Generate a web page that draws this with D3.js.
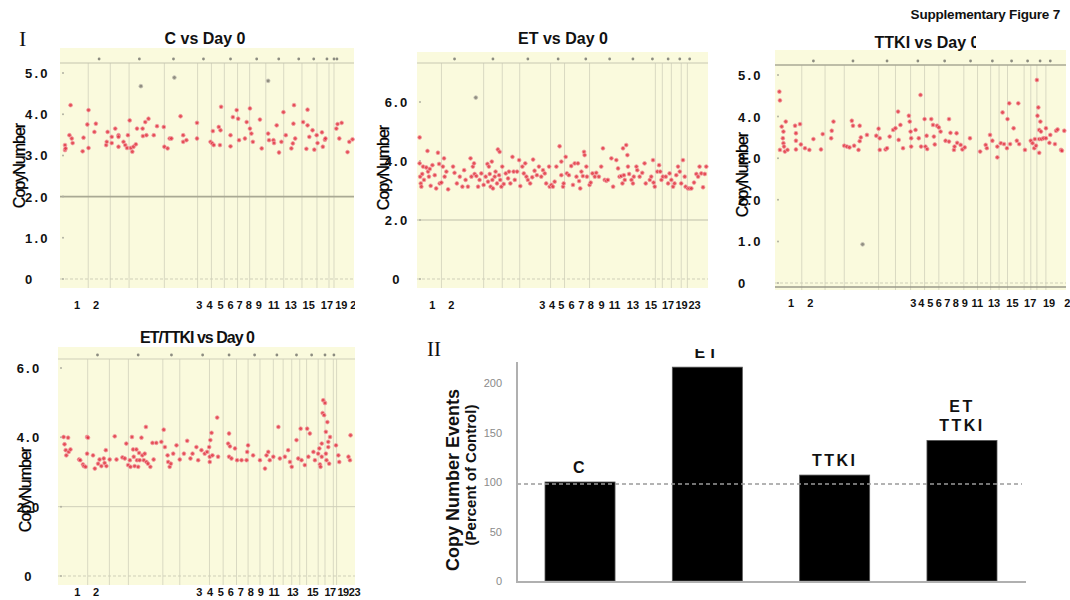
<!DOCTYPE html>
<html>
<head>
<meta charset="utf-8">
<script src="https://cdn.jsdelivr.net/npm/d3@7"></script>
<style>
body { margin: 0; background: #fff; }
text { font-family: "Liberation Sans", Arial, sans-serif; }
</style>
</head>
<body>
<div id="myDiv"></div>
<script>
// copy number points: [genome position (% of genome), copy number]
var cPoints = [[1.7,3.25],[1.7,3.13],[1.9,3.17],[3.6,4.22],[3.2,3.49],[4.0,3.41],[4.3,3.30],[7.7,3.10],[8.0,3.43],[9.3,3.75],[9.7,4.10],[9.7,3.18],[11.7,3.57],[12.2,3.77],[15.7,3.25],[15.9,3.33],[16.2,3.57],[17.6,3.45],[17.6,3.30],[18.8,3.65],[19.9,3.49],[19.9,3.45],[19.9,3.21],[21.6,3.33],[22.2,3.25],[22.8,3.18],[23.1,3.49],[23.7,3.85],[24.1,3.18],[24.6,3.09],[25.0,3.21],[25.8,3.27],[26.2,3.65],[27.5,4.68],[28.1,3.65],[28.2,3.47],[29.0,3.81],[29.4,3.49],[30.1,3.89],[31.9,3.49],[33.0,3.71],[35.3,3.69],[35.5,3.21],[36.6,3.17],[37.3,3.41],[37.9,3.41],[38.9,4.89],[41.0,3.95],[41.9,3.49],[41.9,3.33],[43.0,3.37],[46.6,3.79],[46.6,3.41],[51.2,3.33],[51.8,3.29],[52.0,3.59],[52.3,3.25],[54.0,3.69],[54.6,3.61],[54.4,3.25],[54.8,4.18],[58.0,3.49],[58.0,3.22],[58.8,3.93],[60.1,4.10],[60.6,3.89],[60.9,3.37],[62.9,3.41],[63.5,3.81],[64.6,4.14],[64.6,3.65],[65.1,3.53],[65.6,3.33],[68.0,3.87],[68.6,3.17],[70.8,4.81],[70.8,3.53],[71.1,3.37],[72.6,3.37],[72.8,3.30],[73.7,3.73],[74.5,3.07],[75.3,3.33],[76.0,4.05],[76.8,3.49],[78.7,3.17],[79.2,3.29],[79.4,3.77],[79.6,4.22],[80.0,3.41],[82.7,3.81],[83.8,3.16],[84.2,4.11],[84.2,3.73],[84.8,3.45],[85.9,3.61],[86.5,3.14],[87.3,3.49],[87.6,3.30],[89.1,3.56],[89.4,3.21],[90.1,3.38],[90.3,3.41],[94.0,3.65],[94.4,3.76],[95.0,3.41],[95.8,3.79],[97.8,3.08],[98.4,3.33],[99.5,3.39]];

var etPoints = [[0.9,4.80],[0.9,3.92],[1.1,3.47],[1.3,3.24],[1.5,3.13],[1.8,3.56],[2.1,3.81],[2.4,3.36],[3.2,3.78],[3.6,4.34],[3.8,3.64],[4.1,3.47],[4.4,3.73],[4.7,3.16],[5.3,3.86],[6.1,3.52],[6.6,3.07],[7.2,4.28],[7.6,3.90],[7.8,3.24],[8.4,3.27],[8.9,3.81],[9.3,4.09],[9.5,3.47],[10.1,3.64],[10.7,3.04],[12.4,3.81],[12.9,3.60],[13.7,3.24],[14.7,3.47],[15.6,3.13],[16.2,3.69],[16.7,3.36],[17.5,3.13],[18.4,4.09],[18.7,3.47],[19.2,3.81],[19.6,3.92],[19.8,3.56],[20.2,6.15],[20.4,3.49],[21.0,3.13],[21.5,3.36],[22.1,3.58],[22.9,3.19],[23.6,3.47],[24.2,3.90],[24.4,3.30],[24.7,3.81],[25.0,3.56],[25.3,3.13],[25.7,3.98],[25.9,3.36],[26.1,3.07],[26.7,3.47],[27.0,3.64],[27.5,3.24],[27.8,4.39],[28.2,3.52],[28.4,4.31],[28.6,3.36],[29.0,3.13],[29.3,3.81],[29.8,3.22],[30.5,3.58],[31.3,3.41],[31.6,3.64],[32.1,3.24],[32.8,4.14],[33.2,3.64],[33.6,3.36],[34.4,3.64],[35.1,4.03],[35.5,3.15],[36.2,3.81],[36.7,3.58],[37.2,3.92],[37.6,3.47],[38.1,3.36],[38.9,3.24],[39.6,3.45],[39.9,4.05],[40.4,3.67],[41.2,3.52],[41.9,3.81],[42.7,3.47],[43.3,3.69],[43.9,3.58],[44.4,3.24],[45.4,3.81],[45.6,3.13],[46.2,3.19],[46.7,3.13],[47.3,3.30],[47.9,3.81],[49.0,4.50],[49.6,3.98],[49.6,3.52],[50.2,3.13],[50.4,3.24],[51.1,4.14],[51.5,3.58],[52.2,3.52],[53.0,3.83],[53.6,3.19],[54.2,3.92],[54.8,3.47],[55.3,3.92],[55.7,3.32],[56.1,3.07],[56.5,3.64],[57.0,3.49],[57.4,4.31],[57.6,4.20],[58.2,3.81],[58.4,3.47],[59.3,3.19],[59.7,3.27],[60.3,3.58],[61.1,3.47],[61.6,3.60],[62.5,3.47],[63.3,3.81],[63.9,4.43],[64.5,3.36],[65.1,3.33],[65.6,3.36],[66.8,4.09],[67.4,3.13],[68.5,4.03],[69.1,3.75],[69.6,3.47],[70.2,3.49],[70.6,3.24],[70.8,4.43],[71.1,3.52],[71.4,3.36],[71.9,4.54],[72.3,4.20],[72.5,3.81],[72.9,3.56],[73.7,3.36],[74.2,3.24],[74.5,3.47],[75.4,3.81],[75.7,3.69],[76.5,3.47],[77.4,3.60],[78.2,3.92],[78.6,3.24],[80.0,3.36],[80.5,3.47],[81.1,4.03],[81.3,3.27],[81.7,3.13],[82.6,3.64],[83.2,3.86],[83.6,3.64],[84.0,3.36],[84.5,3.47],[85.5,3.47],[86.3,3.24],[86.8,3.58],[87.4,3.36],[88.0,3.13],[88.5,3.24],[89.1,3.52],[89.7,3.81],[90.3,3.64],[90.8,3.24],[91.4,4.03],[92.0,3.47],[92.3,3.13],[93.1,3.07],[93.7,3.07],[94.3,3.07],[95.2,3.27],[96.0,3.56],[96.6,3.47],[97.1,3.81],[97.7,3.58],[98.3,3.11],[98.9,3.56],[99.4,3.81]];

var ttkiPoints = [[1.5,4.60],[1.7,4.39],[2.3,3.76],[2.7,3.48],[2.9,3.36],[3.1,3.28],[3.4,3.16],[3.7,3.88],[1.7,3.20],[2.9,3.64],[4.3,3.20],[6.9,3.78],[7.2,3.60],[7.2,3.42],[7.2,3.21],[8.6,3.82],[8.9,3.33],[10.3,3.24],[11.8,3.20],[13.2,3.46],[15.8,3.21],[16.4,3.58],[19.3,3.48],[19.5,3.66],[20.1,3.88],[23.8,3.30],[24.7,3.28],[25.6,3.26],[26.4,3.90],[26.8,3.78],[27.2,3.30],[28.7,3.20],[29.1,3.78],[29.1,3.41],[29.5,3.50],[31.6,3.56],[30.1,0.93],[34.8,3.54],[35.6,3.71],[36.0,3.48],[36.0,3.20],[38.0,3.21],[38.5,3.24],[39.4,3.52],[40.6,3.68],[41.4,3.72],[42.3,4.12],[42.5,3.44],[43.1,3.80],[44.0,3.24],[46.0,4.02],[46.3,3.88],[46.6,3.64],[46.8,3.48],[46.8,3.28],[48.3,3.68],[49.4,3.48],[50.0,4.52],[50.2,3.28],[51.4,3.94],[51.7,3.28],[52.1,3.54],[52.3,3.22],[53.7,3.94],[54.3,3.80],[54.6,3.52],[54.9,3.33],[55.7,3.78],[56.3,3.74],[56.9,3.64],[58.6,3.42],[59.8,3.94],[60.3,3.61],[59.8,3.40],[61.5,3.20],[61.7,3.28],[62.4,3.60],[62.6,3.37],[63.8,3.32],[64.4,3.21],[65.2,3.26],[67.0,3.48],[70.5,3.16],[72.4,3.32],[72.8,3.24],[73.9,3.56],[74.7,3.42],[76.4,3.02],[76.4,3.28],[77.6,3.36],[78.2,4.10],[78.7,3.34],[79.7,3.24],[79.9,3.94],[80.5,4.32],[80.8,3.34],[82.0,3.72],[83.1,3.42],[83.6,4.32],[83.9,3.34],[85.9,3.20],[87.9,3.42],[88.5,3.36],[89.1,3.24],[89.3,3.46],[89.7,3.30],[90.0,4.88],[90.2,4.02],[90.5,4.22],[90.8,3.68],[90.8,3.46],[90.8,3.13],[91.2,3.88],[91.4,3.64],[91.6,3.46],[92.3,3.48],[93.1,3.72],[93.1,3.48],[94.3,3.37],[94.6,3.56],[96.2,3.34],[96.6,3.66],[97.1,3.69],[98.3,3.20],[98.6,3.18],[99.4,3.66]];

var ettkiPoints = [[1.9,4.01],[2.2,3.80],[2.6,3.63],[2.8,3.48],[3.4,3.99],[3.6,3.58],[4.2,3.65],[7.1,3.36],[7.5,3.34],[8.4,3.22],[8.7,3.17],[9.3,3.15],[9.8,4.01],[10.1,3.99],[9.8,3.53],[11.8,3.48],[12.4,3.10],[13.5,3.24],[14.0,3.36],[14.6,3.17],[15.4,3.39],[15.7,3.26],[16.1,3.63],[16.3,3.17],[17.4,3.36],[19.1,4.03],[19.7,3.36],[21.7,3.42],[22.5,3.39],[23.0,3.82],[23.6,3.20],[24.2,3.34],[24.4,3.15],[24.9,4.01],[25.3,3.65],[25.5,3.44],[25.8,3.17],[26.4,3.65],[26.6,3.34],[27.0,3.15],[27.3,3.55],[27.5,3.34],[28.1,3.99],[28.4,3.48],[28.9,3.34],[29.2,3.53],[29.6,4.30],[29.8,3.29],[30.3,3.24],[31.1,3.15],[31.8,3.84],[32.2,3.36],[33.1,3.84],[34.8,3.87],[35.6,4.22],[36.0,3.72],[36.9,3.48],[37.1,3.29],[37.6,3.15],[38.0,3.24],[38.8,3.53],[39.9,3.77],[41.0,3.36],[42.4,3.53],[43.5,3.90],[44.6,3.39],[45.3,3.53],[46.6,3.72],[47.2,3.34],[48.3,3.63],[49.4,3.53],[50.2,3.58],[50.9,3.72],[51.1,3.29],[51.3,3.92],[51.7,4.13],[51.1,3.44],[52.0,3.48],[53.6,4.57],[53.9,3.44],[57.3,3.82],[57.6,4.11],[57.9,3.74],[57.6,3.44],[58.4,3.39],[59.6,3.68],[60.3,3.34],[61.8,3.34],[63.5,3.34],[63.7,3.58],[64.0,3.77],[65.7,3.48],[68.0,3.34],[69.7,3.10],[70.2,3.48],[70.8,3.58],[71.3,3.34],[72.5,3.44],[74.2,4.30],[74.7,3.39],[76.4,3.44],[77.5,3.63],[78.1,3.29],[78.7,3.15],[80.3,3.92],[80.9,3.39],[81.7,4.25],[82.0,3.34],[83.1,3.20],[83.9,4.25],[84.3,3.44],[84.8,4.11],[86.0,3.58],[86.5,3.34],[87.6,3.53],[88.0,3.68],[88.2,3.22],[88.4,3.15],[88.8,3.82],[88.8,3.44],[89.1,4.70],[89.3,5.07],[89.6,4.64],[89.9,4.99],[90.2,4.16],[90.2,3.53],[90.4,3.34],[90.7,4.44],[91.0,3.87],[91.0,3.72],[91.3,3.24],[91.6,4.01],[93.6,3.77],[94.4,3.48],[94.7,3.29],[97.8,3.44],[98.3,3.34],[98.5,4.06]];

// chromosome boundaries (% of genome)
var cBounds = [9.6,17.1,23.5,35.5,46.8,51.5,55.9,60.4,64.5,70.0,76.1,82.3,87.4,91.5,93.2];
var etBounds = [8.4,22.9,29.3,35.3,45.9,50.7,59.3,81.9,84.3,87.4,90.8,92.9];
var ttkiBounds = [9.2,17.2,23.8,35.6,41.4,46.6,51.4,56.3,64.9,69.6,74.1,77.0,79.9,85.6,87.9,90.0,93.1];
var ettkiBounds = [10.0,17.3,23.7,35.3,41.0,51.0,55.6,60.1,64.0,68.0,72.5,75.8,78.7,81.4,83.7,87.6,89.9,92.7,93.8];

// small markers along the top strip
var cMarks = [13.3,27.0,38.6,48.8,58.0,66.9,74.4,81.2,86.3,90.8,93.2,94.2];
var etMarks = [12.9,26.1,38.1,48.5,58.0,66.2,74.2,80.9,86.3,90.3,93.7];
var ttkiMarks = [13.2,26.8,38.5,49.1,58.3,67.2,74.7,81.3,86.8,91.1,94.6];
var ettkiMarks = [13.3,27.0,38.2,48.7,57.6,66.2,73.7,80.3,85.4,89.9,92.9];

// chromosome labels under each panel
var chromLabelsA = ["1","2","3","4","5","6","7","8","9","11","13","15","17","19","21"];
var chromLabelsB = ["1","2","3","4","5","6","7","8","9","11","13","15","17","19","23"];
var cLabelPos = [5.8,12.3,47.4,50.9,54.6,58.0,61.1,64.2,67.6,72.7,78.5,84.6,90.8,95.7,100.8];
var etLabelPos = [5.3,11.8,43.1,46.4,49.6,53.1,56.5,59.7,63.4,67.9,74.2,80.4,86.3,90.9,95.4];
var ttkiLabelPos = [5.5,12.1,47.5,50.3,53.4,56.3,59.2,62.1,65.2,69.5,75.3,81.6,87.7,94.2,101.5];
var ettkiLabelPos = [6.4,12.7,47.5,51.1,54.7,58.1,61.5,64.8,68.2,72.7,79.0,85.7,91.6,96.0,99.8];

var ticks5 = [0,1,2,3,4,5];
var ticks6 = [0,2,4,6];

// bar chart (panel II)
var barGroups = ["C","ET","TTKI","ET/TTKI"];
var barValues = [100,216,107,142];
var barLabelLines = [["C"],["ET"],["TTKI"],["ET","TTKI"]];
var barTicks = [0,50,100,150,200];
var controlLevel = 98;

var svg = d3.select("#myDiv").append("svg")
    .attr("width", 1070)
    .attr("height", 600);

var defs = svg.append("defs");

function clip(id, x, y, w, h){
    defs.append("clipPath").attr("id", id)
        .append("rect").attr("x", x).attr("y", y).attr("width", w).attr("height", h);
    return "url(#" + id + ")";
}

function drawPanel(p){
    var g = svg.append("g");
    var x = d3.scaleLinear().domain([0,100]).range([p.x0, p.x1]);
    var y = d3.scaleLinear().domain([0, d3.max(p.ticks)]).range([p.zeroY, p.topTickY]);

    g.append("rect")
        .attr("x", p.x0).attr("y", p.bgTop)
        .attr("width", p.x1 - p.x0).attr("height", p.bgBottom - p.bgTop)
        .attr("fill", "#fafadd");

    g.selectAll(".bound").data(p.bounds).enter()
        .append("line")
        .attr("x1", function(d){ return x(d); })
        .attr("x2", function(d){ return x(d); })
        .attr("y1", p.topLine).attr("y2", p.bgBottom)
        .attr("stroke", "#d9d9c2").attr("stroke-width", 1);

    g.append("line")
        .attr("x1", p.x0).attr("x2", p.x1)
        .attr("y1", p.topLine).attr("y2", p.topLine)
        .attr("stroke", p.topLineColor).attr("stroke-width", p.topLineWidth);

    if (p.twoLine) {
        g.append("line")
            .attr("x1", p.x0).attr("x2", p.x1)
            .attr("y1", y(2)).attr("y2", y(2))
            .attr("stroke", p.twoLine).attr("stroke-width", p.twoLineWidth);
    }

    g.append("line")
        .attr("x1", p.x0).attr("x2", p.x1)
        .attr("y1", y(0)).attr("y2", y(0))
        .attr("stroke", "#cfcfb8").attr("stroke-dasharray", "3,2");

    if (p.bottomLine) {
        g.append("line")
            .attr("x1", p.x0).attr("x2", p.x1)
            .attr("y1", p.bottomLine).attr("y2", p.bottomLine)
            .attr("stroke", "#9a9a8a").attr("stroke-width", 1.5);
    }

    // little marks on the left edge at each tick
    g.selectAll(".edge").data(p.ticks).enter()
        .append("circle")
        .attr("cx", p.x0 + 3)
        .attr("cy", function(d){ return y(d); })
        .attr("r", 1)
        .attr("fill", "#b0b0a0");

    g.selectAll(".mark").data(p.marks).enter()
        .append("circle")
        .attr("cx", function(d){ return x(d); })
        .attr("cy", p.topLine - 4)
        .attr("r", 1.4)
        .attr("fill", "#8c8c80");

    g.selectAll(".pt").data(p.points).enter()
        .append("circle")
        .attr("cx", function(d){ return x(d[0]); })
        .attr("cy", function(d){ return y(d[1]); })
        .attr("r", 1.9)
        .attr("fill", function(d){
            return (d[1] > p.greyAbove || d[1] < 1.5) ? "#7d7a70" : "#e0303e";
        })
        .attr("fill-opacity", 0.85)
        .attr("stroke", function(d){
            return (d[1] > p.greyAbove || d[1] < 1.5) ? "#c8c4b8" : "#f3a0a4";
        })
        .attr("stroke-width", 0.8);

    g.selectAll(".tick").data(p.ticks).enter()
        .append("text")
        .attr("x", p.tickX)
        .attr("y", function(d){ return y(d) + 5; })
        .attr("text-anchor", p.tickAnchor)
        .attr("font-size", 13)
        .attr("font-weight", "bold")
        .attr("letter-spacing", 2.2)
        .attr("fill", "#111")
        .text(function(d){ return d === 0 ? "0" : d.toFixed(1); });

    g.append("text")
        .attr("transform", "translate(" + p.ylabX + "," + p.ylabY + ") rotate(-90)")
        .attr("text-anchor", "middle")
        .attr("font-size", 16)
        .attr("letter-spacing", -1)
        .attr("fill", "#000")
        .attr("stroke", "#000")
        .attr("stroke-width", 0.3)
        .text("CopyNumber");

    var t = g.append("text")
        .attr("x", p.titleX).attr("y", p.titleY)
        .attr("text-anchor", "middle")
        .attr("font-size", 16)
        .attr("font-weight", "bold")
        .attr("letter-spacing", p.titleSpacing)
        .attr("fill", "#111")
        .text(p.title);
    if (p.titleClip) t.attr("clip-path", p.titleClip);

    g.append("g").attr("clip-path", p.labelClip)
        .selectAll(".chr").data(p.labels).enter()
        .append("text")
        .attr("x", function(d, i){ return x(p.labelPos[i]); })
        .attr("y", p.labelY)
        .attr("text-anchor", "middle")
        .attr("font-size", 11)
        .attr("font-weight", "bold")
        .attr("letter-spacing", p.labelSpacing)
        .attr("fill", "#111")
        .text(function(d){ return d; });
}

drawPanel({
    points: cPoints, bounds: cBounds, marks: cMarks, ticks: ticks5,
    labels: chromLabelsA, labelPos: cLabelPos,
    x0: 60, x1: 354, bgTop: 48, bgBottom: 288, topLine: 63, zeroY: 279, topTickY: 73,
    topLineColor: "#c4c4ae", topLineWidth: 1, twoLine: "#a9a994", twoLineWidth: 1.6,
    greyAbove: 4.6, tickX: 25, tickAnchor: "start", ylabX: 25, ylabY: 166,
    title: "C vs Day 0", titleX: 205, titleY: 44, titleSpacing: 0,
    labelY: 309, labelSpacing: 0, labelClip: clip("clipC", 0, 290, 355, 30)
});

drawPanel({
    points: etPoints, bounds: etBounds, marks: etMarks, ticks: ticks6,
    labels: chromLabelsB, labelPos: etLabelPos,
    x0: 417, x1: 708, bgTop: 52, bgBottom: 288, topLine: 63, zeroY: 279, topTickY: 102,
    topLineColor: "#c8c8b2", topLineWidth: 1, twoLine: "#bdbdaa", twoLineWidth: 1.2,
    greyAbove: 5.5, tickX: 397, tickAnchor: "middle", ylabX: 389, ylabY: 168,
    title: "ET vs Day 0", titleX: 563, titleY: 44, titleSpacing: 0,
    labelY: 309, labelSpacing: 0, labelClip: clip("clipET", 400, 290, 320, 30)
});

drawPanel({
    points: ttkiPoints, bounds: ttkiBounds, marks: ttkiMarks, ticks: ticks5,
    labels: chromLabelsA, labelPos: ttkiLabelPos,
    x0: 775, x1: 1066, bgTop: 50, bgBottom: 290, topLine: 65, zeroY: 283, topTickY: 75,
    topLineColor: "#a8a894", topLineWidth: 1.5, twoLine: null, bottomLine: 287,
    greyAbove: 4.95, tickX: 738, tickAnchor: "start", ylabX: 748, ylabY: 175,
    title: "TTKI vs Day 0", titleX: 927, titleY: 48, titleSpacing: 0,
    titleClip: clip("clipTitle", 850, 20, 126, 40),
    labelY: 307, labelSpacing: 0, labelClip: clip("clipTT", 760, 292, 310, 30)
});

drawPanel({
    points: ettkiPoints, bounds: ettkiBounds, marks: ettkiMarks, ticks: ticks6,
    labels: chromLabelsB, labelPos: ettkiLabelPos,
    x0: 58, x1: 355, bgTop: 347, bgBottom: 585, topLine: 359, zeroY: 576, topTickY: 368,
    topLineColor: "#cfcfb8", topLineWidth: 1, twoLine: "#cfcfba", twoLineWidth: 1,
    greyAbove: 5.5, tickX: 29, tickAnchor: "middle", ylabX: 31, ylabY: 490,
    title: "ET/TTKI vs Day 0", titleX: 197, titleY: 343, titleSpacing: -1,
    labelY: 596, labelSpacing: -0.5, labelClip: clip("clipETT", 40, 586, 330, 14)
});

// panel letters and page heading
svg.append("text")
    .attr("x", 19).attr("y", 46)
    .style("font-family", "'Liberation Serif', serif")
    .attr("font-size", 22)
    .attr("fill", "#111")
    .text("I");

svg.append("text")
    .attr("x", 1060).attr("y", 19)
    .attr("text-anchor", "end")
    .attr("font-size", 13.5)
    .attr("font-weight", "bold")
    .attr("letter-spacing", -0.2)
    .attr("fill", "#111")
    .text("Supplementary Figure 7");

svg.append("text")
    .attr("x", 427).attr("y", 356)
    .style("font-family", "'Liberation Serif', serif")
    .attr("font-size", 21)
    .attr("fill", "#111")
    .text("II");

// bar chart
var bx = d3.scaleBand().domain(barGroups).range([517, 1025])
    .paddingInner(0.45).paddingOuter(0.22);
var by = d3.scaleLinear().domain([0, 200]).range([581, 383]);

var bars = svg.append("g");

var yAxis = bars.append("g")
    .attr("transform", "translate(517,0)")
    .call(d3.axisLeft(by).tickValues(barTicks).tickSize(0).tickPadding(15));
yAxis.select(".domain").remove();
yAxis.selectAll("text")
    .attr("font-size", 11)
    .attr("fill", "#8a8a8a")
    .style("font-family", "'Liberation Sans', Arial, sans-serif");

bars.selectAll(".bar").data(barValues).enter()
    .append("rect")
    .attr("x", function(d, i){ return bx(barGroups[i]); })
    .attr("y", function(d){ return by(d); })
    .attr("width", bx.bandwidth())
    .attr("height", function(d){ return by(0) - by(d); })
    .attr("fill", "#000")
    .attr("stroke", "#555")
    .attr("stroke-width", 0.8);

bars.append("line")
    .attr("x1", 517).attr("x2", 1022)
    .attr("y1", by(controlLevel)).attr("y2", by(controlLevel))
    .attr("stroke", "#9a9a9a").attr("stroke-width", 1.3)
    .attr("stroke-dasharray", "4,3");

bars.append("line")
    .attr("x1", 517).attr("x2", 517)
    .attr("y1", 362).attr("y2", 582)
    .attr("stroke", "#b0b0b0").attr("stroke-width", 2);

bars.append("line")
    .attr("x1", 516).attr("x2", 1026)
    .attr("y1", 582).attr("y2", 582)
    .attr("stroke", "#b0b0b0").attr("stroke-width", 2);

var labelClip = clip("clipBarLab", 520, 349, 540, 140);
barLabelLines.forEach(function(lines, i){
    var cx = bx(barGroups[i]) + bx.bandwidth() / 2;
    var top = by(barValues[i]) - 9;
    lines.forEach(function(s, j){
        bars.append("text")
            .attr("x", cx)
            .attr("y", top - (lines.length - 1 - j) * 19)
            .attr("text-anchor", "middle")
            .attr("font-size", 16)
            .attr("font-weight", "bold")
            .attr("letter-spacing", 2.5)
            .attr("fill", "#111")
            .attr("clip-path", labelClip)
            .text(s);
    });
});

bars.append("text")
    .attr("transform", "translate(459,480) rotate(-90)")
    .attr("text-anchor", "middle")
    .attr("font-size", 18)
    .attr("font-weight", "bold")
    .attr("fill", "#111")
    .text("Copy Number  Events");

bars.append("text")
    .attr("transform", "translate(476,475) rotate(-90)")
    .attr("text-anchor", "middle")
    .attr("font-size", 15)
    .attr("font-weight", "bold")
    .attr("fill", "#111")
    .text("(Percent of Control)");
</script>
</body>
</html>
